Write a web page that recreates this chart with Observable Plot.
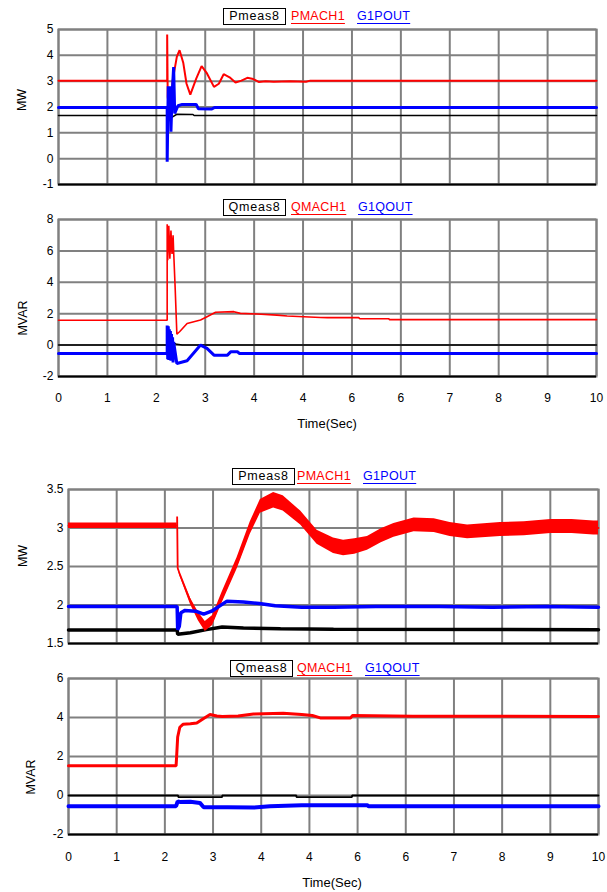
<!DOCTYPE html>
<html><head><meta charset="utf-8">
<script src="https://cdn.jsdelivr.net/npm/d3@7"></script>
<script src="https://cdn.jsdelivr.net/npm/@observablehq/plot@0.6"></script>
<style>
body{margin:0;background:#fff;}
#root{position:relative;width:607px;height:892px;overflow:hidden;font-family:"Liberation Sans",Arial,sans-serif;color:#000;}
.panel{position:absolute;left:0;}
.lg{position:absolute;font-size:12.5px;line-height:14px;white-space:nowrap;}
.box{border:1px solid #000;height:15px;line-height:15px;text-align:center;letter-spacing:0.8px;box-sizing:border-box;}
.ul{text-decoration:underline;text-underline-offset:3px;letter-spacing:0.3px;}
.ytitle{position:absolute;font-size:12.5px;transform:translate(-50%,-50%) rotate(-90deg);white-space:nowrap;}
.xtitle{position:absolute;font-size:13px;transform:translate(-50%,-50%);white-space:nowrap;}
</style></head><body><div id="root"></div>
<script>
// ---------- shared axis data ----------
const xTickLabels = ["0","1","2","3","4","4","6","6","7","8","9","10"];
const xTicks = xTickLabels.map((_, i) => i * 10 / (xTickLabels.length - 1));

// ---------- Panel 1: P (MW), run 1 ----------
const p1YTicks = [-1, 0, 1, 2, 3, 4, 5];
const p1YLabels = ["-1","0","1","2","3","4","5"];
const p1_Pmeas8_t = [0, 2.02, 2.04, 2.08, 2.12, 2.2, 2.5, 2.52, 10];
const p1_Pmeas8   = [1.67, 1.67, 1.45, 1.55, 1.62, 1.72, 1.71, 1.67, 1.67];
const p1_PMACH1_t = [0, 2.02, 2.02, 2.03, 2.07, 2.09, 2.12, 2.2, 2.25, 2.32, 2.38, 2.45, 2.56, 2.66, 2.76, 2.89, 2.98, 3.07, 3.18, 3.29, 3.4, 3.51, 3.62, 3.72, 3.85, 4.0, 4.3, 4.6, 4.68, 10];
const p1_PMACH1   = [3.02, 3.02, 4.81, 2.39, 1.7, 1.95, 3.0, 3.95, 4.2, 3.7, 2.9, 2.48, 3.1, 3.58, 3.3, 2.78, 2.9, 3.27, 3.15, 2.95, 3.02, 3.13, 3.08, 2.97, 3.0, 2.98, 3.0, 2.98, 3.02, 3.02];
const p1_G1POUT_t = [0, 2.02, 2.02, 2.04, 2.06, 2.08, 2.09, 2.11, 2.14, 2.16, 2.22, 2.3, 2.56, 2.6, 2.85, 2.9, 10];
const p1_G1POUT   = [1.98, 1.98, -0.12, 2.8, 2.0, 2.8, 1.04, 2.4, 3.55, 1.75, 2.05, 2.1, 2.1, 1.93, 1.92, 1.98, 1.98];

// ---------- Panel 2: Q (MVAR), run 1 ----------
const p2YTicks = [-2, 0, 2, 4, 6, 8];
const p2YLabels = ["-2","0","2","4","6","8"];
const p2_Qmeas8_t = [0, 2.02, 2.05, 2.1, 2.2, 2.3, 10];
const p2_Qmeas8   = [0, 0, 0.3, 0.2, 0.05, 0, 0];
const p2_QMACH1_t = [0, 2.02, 2.02, 2.03, 2.05, 2.07, 2.09, 2.11, 2.13, 2.14, 2.17, 2.2, 2.25, 2.39, 2.64, 2.76, 2.92, 3.26, 3.38, 3.69, 4.06, 4.25, 4.87, 5.0, 5.58, 5.6, 6.14, 6.15, 10];
const p2_QMACH1   = [1.58, 1.58, 7.7, 5.4, 7.6, 5.5, 7.3, 5.8, 7.0, 6.0, 3.5, 0.7, 0.85, 1.38, 1.6, 1.81, 2.09, 2.13, 2.02, 1.98, 1.91, 1.85, 1.76, 1.75, 1.75, 1.68, 1.68, 1.62, 1.62];
const p2_G1QOUT_t = [0, 2.02, 2.02, 2.03, 2.04, 2.05, 2.06, 2.07, 2.08, 2.09, 2.1, 2.11, 2.12, 2.13, 2.14, 2.2, 2.39, 2.64, 2.76, 2.89, 3.14, 3.2, 3.33, 3.36, 10];
const p2_G1QOUT   = [-0.53, -0.53, 1.25, -0.9, 1.2, -0.95, 1.0, -0.9, 0.9, -1.0, 0.7, -1.0, 0.5, -1.1, 0.2, -1.17, -1.0, 0.0, -0.21, -0.64, -0.64, -0.43, -0.43, -0.53, -0.53];

// ---------- Panel 3: P (MW), run 2 ----------
const p3YTicks = [1.5, 2, 2.5, 3, 3.5];
const p3YLabels = ["1.5","2","2.5","3","3.5"];
const p3_Pmeas8_t = [0, 2.05, 2.06, 2.3, 2.6, 2.9, 3.3, 4.0, 5.0, 10];
const p3_Pmeas8   = [1.675, 1.675, 1.62, 1.64, 1.68, 1.715, 1.7, 1.69, 1.685, 1.68];
const p3_PMACH1_t = [0, 2.05, 2.05, 2.06, 2.1, 2.3, 2.45, 2.58, 2.72, 2.9, 3.18, 3.43, 3.62, 3.87, 4.05, 4.38, 4.69, 5.0, 5.19, 5.4, 5.64, 5.9, 6.14, 6.52, 6.9, 7.2, 7.53, 8.15, 8.6, 9.1, 9.5, 9.91, 10];
const p3_PMACH1   = [3.03, 3.03, 3.15, 2.48, 2.4, 2.05, 1.85, 1.72, 1.8, 2.1, 2.54, 3.0, 3.28, 3.36, 3.32, 3.13, 2.88, 2.77, 2.74, 2.76, 2.8, 2.9, 2.97, 3.04, 3.03, 2.98, 2.95, 2.98, 2.99, 3.02, 3.02, 3.0, 3.0];
const p3_PMACH1_halfBand = [0.035, 0.035, 0, 0, 0.02, 0.04, 0.055, 0.065, 0.065, 0.07, 0.075, 0.08, 0.09, 0.1, 0.1, 0.09, 0.09, 0.1, 0.1, 0.1, 0.09, 0.09, 0.09, 0.09, 0.09, 0.09, 0.09, 0.09, 0.09, 0.09, 0.09, 0.09, 0.09];
const p3_G1POUT_t = [0, 2.05, 2.06, 2.09, 2.12, 2.2, 2.4, 2.55, 2.7, 2.99, 3.3, 3.6, 3.9, 4.4, 5.0, 5.8, 7.0, 8.0, 9.0, 10];
const p3_G1POUT   = [1.98, 1.98, 1.68, 1.72, 1.9, 1.93, 1.92, 1.88, 1.92, 2.05, 2.04, 2.02, 1.99, 1.97, 1.97, 1.98, 1.98, 1.97, 1.98, 1.97];

// ---------- Panel 4: Q (MVAR), run 2 ----------
const p4YTicks = [-2, 0, 2, 4, 6];
const p4YLabels = ["-2","0","2","4","6"];
const p4_Qmeas8_t = [0, 2.07, 2.07, 2.9, 2.9, 4.3, 4.3, 5.35, 5.35, 10];
const p4_Qmeas8   = [0, 0, -0.08, -0.08, 0, 0, -0.08, -0.08, 0, 0];
const p4_QMACH1_t = [0, 2.03, 2.04, 2.06, 2.1, 2.16, 2.3, 2.42, 2.55, 2.67, 2.8, 2.9, 3.2, 3.49, 4.05, 4.4, 4.6, 4.75, 5.32, 5.36, 6.5, 10];
const p4_QMACH1   = [1.52, 1.52, 2.0, 3.0, 3.5, 3.65, 3.68, 3.72, 3.95, 4.15, 4.08, 4.05, 4.08, 4.18, 4.22, 4.15, 4.1, 3.98, 3.98, 4.1, 4.07, 4.05];
const p4_G1QOUT_t = [0, 2.03, 2.06, 2.1, 2.3, 2.48, 2.55, 3.0, 3.5, 3.8, 4.4, 5.0, 5.64, 5.66, 10];
const p4_G1QOUT   = [-0.55, -0.55, -0.3, -0.33, -0.32, -0.38, -0.6, -0.6, -0.62, -0.55, -0.5, -0.5, -0.5, -0.55, -0.55];

// ---------- legends & titles ----------
const legends = [
  {top: 8,   items: [["Pmeas8", 223, "#000"], ["PMACH1", 291, "#ff0000"], ["G1POUT", 357, "#0000ff"]]},
  {top: 199, items: [["Qmeas8", 223, "#000"], ["QMACH1", 291, "#ff0000"], ["G1QOUT", 358, "#0000ff"]]},
  {top: 468, items: [["Pmeas8", 232, "#000"], ["PMACH1", 297, "#ff0000"], ["G1POUT", 363, "#0000ff"]]},
  {top: 660, items: [["Qmeas8", 230, "#000"], ["QMACH1", 297, "#ff0000"], ["G1QOUT", 365, "#0000ff"]]}
];

const root = document.getElementById("root");
const GRID = "#808080";

function lineMark(t, v, color, w) {
  return Plot.line(d3.range(t.length), {x: i => t[i], y: i => v[i], stroke: color, strokeWidth: w, strokeLinejoin: "miter"});
}

function panel(cfg) {
  const yMap = new Map(cfg.yTicks.map((d, i) => [d, cfg.yLabels[i]]));
  const xMap = new Map(xTicks.map((d, i) => [d, xTickLabels[i]]));
  const marks = [
    Plot.gridX({ticks: xTicks, stroke: GRID, strokeOpacity: 1, strokeWidth: 2}),
    Plot.gridY({ticks: cfg.yTicks, stroke: GRID, strokeOpacity: 1, strokeWidth: 2}),
    Plot.frame({stroke: GRID, strokeWidth: 2}),
    Plot.ruleY([cfg.yTicks[0]], {stroke: "#000", strokeWidth: 2}),
    ...cfg.series,
    Plot.axisY({ticks: cfg.yTicks, tickSize: 0, tickPadding: 5, tickFormat: d => yMap.get(d), fontSize: 12, label: null})
  ];
  if (cfg.showX) marks.push(Plot.axisX({ticks: xTicks, tickSize: 0, tickPadding: cfg.xPad, tickFormat: d => xMap.get(d), fontSize: 12, label: null}));
  const svg = Plot.plot({
    width: 607, height: cfg.height,
    marginTop: cfg.mt, marginBottom: cfg.mb, marginLeft: cfg.ml, marginRight: cfg.mr,
    x: {domain: [0, 10], axis: cfg.showX ? undefined : null},
    y: {domain: [cfg.yTicks[0], cfg.yTicks[cfg.yTicks.length - 1]]},
    style: {fontFamily: "'Liberation Sans', Arial, sans-serif", fontSize: "12px", color: "#000", background: "transparent", overflow: "visible"},
    marks
  });
  const wrap = document.createElement("div");
  wrap.className = "panel";
  wrap.style.top = cfg.top + "px";
  wrap.appendChild(svg);
  root.appendChild(wrap);
}

panel({top: 19, height: 170, mt: 10, mb: 5, ml: 58, mr: 11, yTicks: p1YTicks, yLabels: p1YLabels, showX: false,
  series: [
    lineMark(p1_Pmeas8_t, p1_Pmeas8, "#000", 1.5),
    lineMark(p1_PMACH1_t, p1_PMACH1, "#ff0000", 2),
    lineMark(p1_G1POUT_t, p1_G1POUT, "#0000ff", 3)
  ]});

panel({top: 209, height: 197, mt: 10, mb: 30, ml: 58, mr: 11, yTicks: p2YTicks, yLabels: p2YLabels, showX: true, xPad: 17,
  series: [
    lineMark(p2_Qmeas8_t, p2_Qmeas8, "#000", 1.5),
    lineMark(p2_QMACH1_t, p2_QMACH1, "#ff0000", 1.6),
    lineMark(p2_G1QOUT_t, p2_G1QOUT, "#0000ff", 3)
  ]});

panel({top: 479, height: 169, mt: 10, mb: 5, ml: 68, mr: 9, yTicks: p3YTicks, yLabels: p3YLabels, showX: false,
  series: [
    lineMark(p3_Pmeas8_t, p3_Pmeas8, "#000", 3.5),
    Plot.areaY(d3.range(p3_PMACH1_t.length), {x: i => p3_PMACH1_t[i], y1: i => p3_PMACH1[i] - p3_PMACH1_halfBand[i], y2: i => p3_PMACH1[i] + p3_PMACH1_halfBand[i], fill: "#ff0000"}),
    lineMark(p3_PMACH1_t, p3_PMACH1, "#ff0000", 1.8),
    lineMark(p3_G1POUT_t, p3_G1POUT, "#0000ff", 3.5)
  ]});

panel({top: 668, height: 196, mt: 10, mb: 30, ml: 68, mr: 9, yTicks: p4YTicks, yLabels: p4YLabels, showX: true, xPad: 18,
  series: [
    lineMark(p4_Qmeas8_t, p4_Qmeas8, "#000", 1.8),
    lineMark(p4_QMACH1_t, p4_QMACH1, "#ff0000", 3),
    lineMark(p4_G1QOUT_t, p4_G1QOUT, "#0000ff", 4)
  ]});

for (const lg of legends) {
  lg.items.forEach(([name, left, color], k) => {
    const s = document.createElement("div");
    s.className = "lg " + (k === 0 ? "box" : "ul");
    s.textContent = name;
    s.style.left = left + "px";
    s.style.top = (k === 0 ? lg.top : lg.top + 1) + "px";
    s.style.color = color;
    if (k === 0) { s.style.width = "63px"; s.style.height = "17px"; s.style.lineHeight = "15px"; }
    root.appendChild(s);
  });
}

const yTitles = [["MW", 22, 100], ["MVAR", 23, 318], ["MW", 23, 556], ["MVAR", 31, 777]];
for (const [txt, x, y] of yTitles) {
  const d = document.createElement("div");
  d.className = "ytitle"; d.textContent = txt;
  d.style.left = x + "px"; d.style.top = y + "px";
  root.appendChild(d);
}
const xTitles = [["Time(Sec)", 327, 423], ["Time(Sec)", 332, 882]];
for (const [txt, x, y] of xTitles) {
  const d = document.createElement("div");
  d.className = "xtitle"; d.textContent = txt;
  d.style.left = x + "px"; d.style.top = y + "px";
  root.appendChild(d);
}
</script></body></html>
